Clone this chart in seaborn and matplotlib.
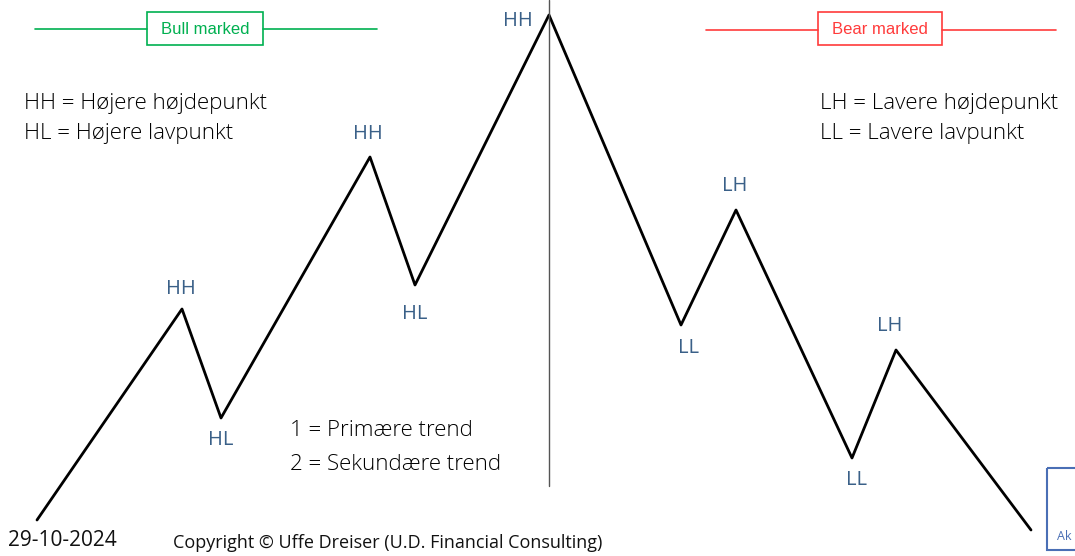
import matplotlib
matplotlib.use('Agg')
import matplotlib.pyplot as plt
import seaborn as sns
import pandas as pd
from matplotlib.patches import Rectangle

# zigzag pivot points (pixel-like coordinates, y grows downwards)
pivot_x = [37, 182, 221, 370, 415, 549, 681, 736, 852, 896, 1031]
pivot_y = [520, 309, 418, 157, 285, 15, 325, 210, 458, 350, 530]

# pivot labels
label_text = ['HH', 'HL', 'HH', 'HL', 'HH', 'LL', 'LH', 'LL', 'LH']
label_x = [181, 221, 368, 415, 518, 688, 735, 856, 890]
label_y = [289, 440, 134, 314, 21, 348, 186, 480, 326]

W, H = 1075, 556
sns.set_theme(style='white')
plt.rcParams['font.family'] = ['Open Sans', 'DejaVu Sans']

fig = plt.figure(figsize=(W / 100, H / 100), dpi=100)
ax = fig.add_axes([0, 0, 1, 1])
ax.set_xlim(0, W)
ax.set_ylim(H, 0)
ax.axis('off')

df = pd.DataFrame({'x': pivot_x, 'y': pivot_y})
sns.lineplot(data=df, x='x', y='y', ax=ax, color='black', lw=2, sort=False)

# divider between bull and bear
ax.plot([549, 549], [0, 486], color='#555555', lw=1)

label_color = '#3a6088'
for t, x, y in zip(label_text, label_x, label_y):
    ax.text(x, y, t, color=label_color, fontsize=14.5, ha='center', va='center')

# bull / bear headers
green = '#00b050'
red = '#ff3b3b'
ax.plot([35, 147], [29, 29], color=green, lw=1.2)
ax.plot([263, 377], [29, 29], color=green, lw=1.2)
ax.add_patch(Rectangle((147, 12), 116, 33, fill=False, ec=green, lw=1.2))
ax.text(205, 29, 'Bull marked', color=green, fontsize=12, ha='center', va='center',
        family=['Liberation Sans'])
ax.plot([706, 818], [30, 30], color=red, lw=1.2)
ax.plot([942, 1056], [30, 30], color=red, lw=1.2)
ax.add_patch(Rectangle((818, 12), 124, 33, fill=False, ec=red, lw=1.2))
ax.text(880, 29, 'Bear marked', color=red, fontsize=12, ha='center', va='center',
        family=['Liberation Sans'])

# explanations
kw = dict(fontsize=16, va='center', color='black', fontweight='light')
ax.text(24, 104, 'HH = Højere højdepunkt', **kw)
ax.text(24, 133, 'HL = Højere lavpunkt', **kw)
ax.text(820, 104, 'LH = Lavere højdepunkt', **kw)
ax.text(820, 133, 'LL = Lavere lavpunkt', **kw)
ax.text(290, 430, '1 = Primære trend', **kw)
ax.text(290, 465, '2 = Sekundære trend', **kw)

# footer
ax.text(8, 541, '29-10-2024', fontsize=15, va='center', color='#111111')
ax.text(173, 543, 'Copyright © Uffe Dreiser (U.D. Financial Consulting)', fontsize=13,
        va='center', color='#111111')

# clipped box in the corner
ax.add_patch(Rectangle((1047, 468), 40, 82, fill=False, ec='#4a6fb5', lw=1.5))
ax.text(1057, 537, 'Ak', fontsize=9, va='center', color='#4a6fb5')

fig.savefig('out.png', dpi=100, facecolor='white')
